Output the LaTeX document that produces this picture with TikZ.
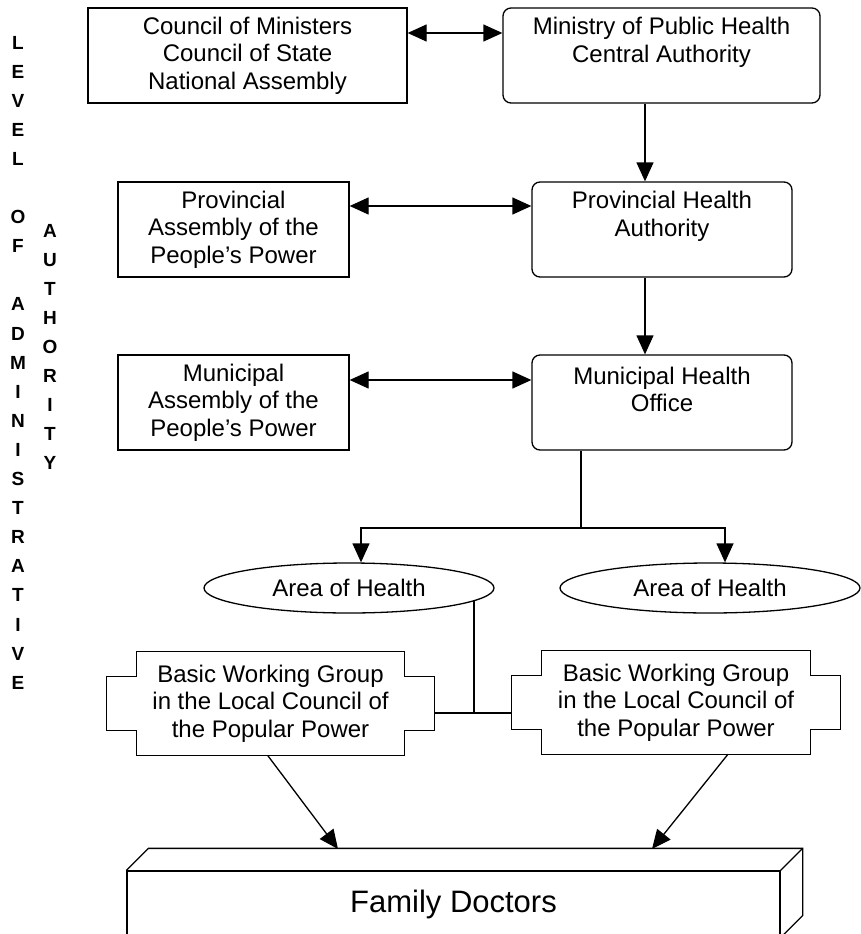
\documentclass[tikz,border=0pt]{standalone}
\usepackage{fontspec}
\setmainfont{Liberation Sans}
\usetikzlibrary{arrows.meta,shapes.geometric,calc}
\newcommand\crossoutline[1]{\draw[line] ([xshift=30pt]#1.north west) -- ([xshift=-30pt]#1.north east) -- ([xshift=-30pt,yshift=-25pt]#1.north east) -- ([yshift=-25pt]#1.north east) -- ([yshift=25pt]#1.south east) -- ([xshift=-30pt,yshift=25pt]#1.south east) -- ([xshift=-30pt]#1.south east) -- ([xshift=30pt]#1.south west) -- ([xshift=30pt,yshift=25pt]#1.south west) -- ([yshift=25pt]#1.south west) -- ([yshift=-25pt]#1.north west) -- ([xshift=30pt,yshift=-25pt]#1.north west) -- cycle;}
\begin{document}
\begin{tikzpicture}[x=1pt,y=-1pt,
  line/.style={line width=1.3pt},
  txt/.style={font=\fontsize{24}{27.5}\selectfont},
  box/.style={draw, line width=1.3pt, rectangle, align=center, inner sep=0pt, txt},
  rbox/.style={box, rounded corners=8pt},
  plain/.style={align=center, inner sep=0pt, txt},
  oval/.style={draw, line width=1.3pt, ellipse, inner sep=0pt, txt},
  cbox/.style={align=center, inner sep=0pt, txt, minimum width=327pt, minimum height=103pt},
  arr/.style={line width=1.3pt, -{Triangle[length=19pt,width=17pt]}},
  darr/.style={line width=1.3pt, {Triangle[length=19pt,width=17pt]}-{Triangle[length=19pt,width=17pt]}},
  vlet/.style={font=\fontsize{19}{19}\selectfont\bfseries, inner sep=0pt, anchor=base},
]
\fill[white] (0,0) rectangle (861,934);
\useasboundingbox (0,0) rectangle (861,934);

% vertical side labels
\foreach \k/\l in {0/L,1/E,2/V,3/E,4/L,6/O,7/F,9/A,10/D,11/M,12/I,13/N,14/I,15/S,16/T,17/R,18/A,19/T,20/I,21/V,22/E}
  \node[vlet] (lv\k) at (18,{49+29.1*\k}) {\l};
\foreach \k/\l in {0/A,1/U,2/T,3/H,4/O,5/R,6/I,7/T,8/Y}
  \node[vlet] (au\k) at (50,{237+29.1*\k}) {\l};

% left boxes
\node[box, minimum width=319pt, minimum height=95pt] (council) at (247.5,55.5) {Council of Ministers\\Council of State\\National Assembly};
\node[box, minimum width=231pt, minimum height=95pt] (prova) at (233.5,229.5) {Provincial\\Assembly of the\\People’s Power};
\node[box, minimum width=231pt, minimum height=95pt] (muna) at (233.5,402.5) {Municipal\\Assembly of the\\People’s Power};

% right boxes (text sits in the upper part)
\node[rbox, minimum width=317pt, minimum height=95pt] (ministry) at (661.5,55.5) {};
\node[plain] (ministryT) at (661.5,42.5) {Ministry of Public Health\\Central Authority};
\node[rbox, minimum width=260pt, minimum height=95pt] (provh) at (662,229.5) {};
\node[plain] (provhT) at (662,216.5) {Provincial Health\\Authority};
\node[rbox, minimum width=260pt, minimum height=95pt] (munh) at (662,402.5) {};
\node[plain] (munhT) at (662,389.5) {Municipal Health\\Office};

\node[oval, minimum width=290pt, minimum height=50pt] (area1) at (349,588) {Area of Health};
\node[oval, minimum width=300pt, minimum height=50pt] (area2) at (710,588) {Area of Health};

\node[cbox] (bwg1) at (270.5,703.5) {Basic Working Group\\in the Local Council of\\the Popular Power};
\node[cbox, minimum width=328pt] (bwg2) at (676,702.5) {Basic Working Group\\in the Local Council of\\the Popular Power};
\crossoutline{bwg1}
\crossoutline{bwg2}

\node[draw, line width=1.3pt, minimum width=653pt, minimum height=66pt, inner sep=0pt, font=\fontsize{31}{31}\selectfont] (fd) at (453.5,904) {Family Doctors};
\draw[line] (fd.north west) -- ([xshift=22pt,yshift=22pt]fd.north west) -- ([xshift=22pt,yshift=22pt]fd.north east) -- ([xshift=22pt,yshift=22pt]fd.south east) -- (fd.south east);
\draw[line] (fd.north east) -- ([xshift=22pt,yshift=22pt]fd.north east);
\coordinate (fdl) at (338,849);
\coordinate (fdr) at (652,849);

% connectors
\draw[darr] ([yshift=22.5pt]council.east) -- ([yshift=22.5pt]council.east -| ministry.west);
\draw[darr] ([yshift=23.5pt]prova.east) -- ([yshift=23.5pt]prova.east -| provh.west);
\draw[darr] ([yshift=22.5pt]muna.east) -- ([yshift=22.5pt]muna.east -| munh.west);
\draw[arr] ([xshift=-16.5pt]ministry.south) -- ([xshift=-16.5pt]ministry.south |- provh.north);
\draw[arr] ([xshift=-17pt]provh.south) -- ([xshift=-17pt]provh.south |- munh.north);

\coordinate (split) at (581,528);
\draw[line] (split |- munh.south) -- (split);
\draw[arr] (split) -| ([xshift=12pt]area1.north);
\draw[arr] (split) -| ([xshift=15pt]area2.north);

\draw[line] (area1.-6) |- ([yshift=-9.5pt]bwg1.east);
\draw[line] ([yshift=-9.5pt]bwg1.east) -- ([yshift=-9.5pt]bwg1.east -| bwg2.west);

\draw[arr] ([xshift=-3pt]bwg1.south) -- (fdl);
\draw[arr] ([xshift=52pt]bwg2.south) -- (fdr);
\end{tikzpicture}
\end{document}
